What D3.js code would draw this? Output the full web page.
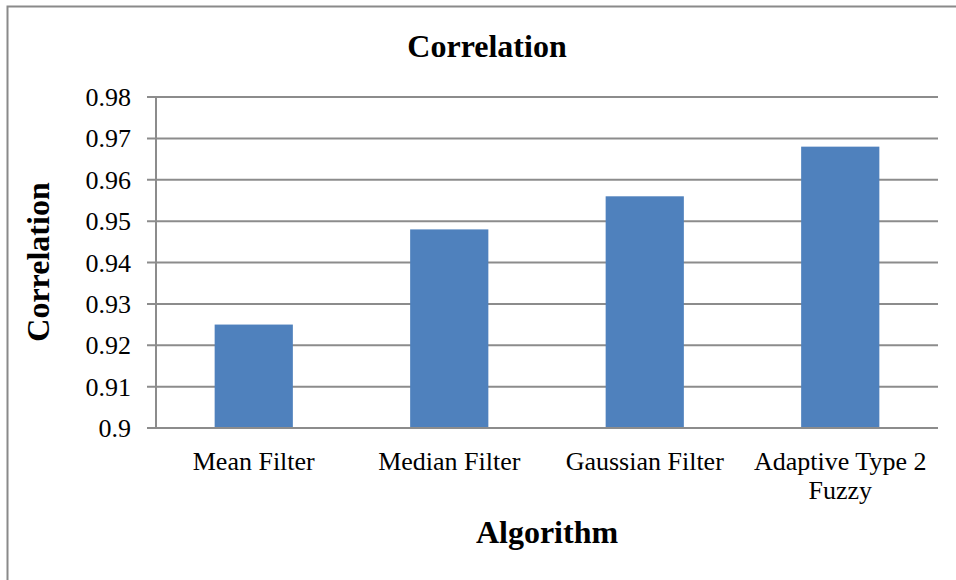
<!DOCTYPE html>
<html>
<head>
<meta charset="utf-8">
<script src="https://cdn.jsdelivr.net/npm/d3@7"></script>
<style>
  body { margin: 0; background: #fff; }
  text { font-family: "Liberation Serif", "Times New Roman", serif; fill: #000; }
</style>
</head>
<body>
<svg id="chart" width="956" height="580"></svg>
<script>
const categories = [['Mean Filter'], ['Median Filter'], ['Gaussian Filter'], ['Adaptive Type 2', 'Fuzzy']]
const values = [0.925, 0.948, 0.956, 0.968]
const yTicks = [0.9, 0.91, 0.92, 0.93, 0.94, 0.95, 0.96, 0.97, 0.98]

const svg = d3.select('#chart')
const margin = { left: 156, right: 18, top: 97, bottom: 152 }
const width = 956 - margin.left - margin.right
const height = 580 - margin.top - margin.bottom

// outer frame (cut off at right and bottom like the picture)
svg.append('rect')
  .attr('x', 7.5).attr('y', 6.5)
  .attr('width', 1000).attr('height', 1000)
  .attr('fill', 'none').attr('stroke', '#8a8a8a').attr('stroke-width', 2)

const g = svg.append('g').attr('transform', `translate(${margin.left},${margin.top})`)

const x = d3.scaleBand().domain(d3.range(categories.length)).range([0, width])
const y = d3.scaleLinear().domain([0.9, 0.98]).range([height, 0])

// gridlines + ticks
g.selectAll('.grid').data(yTicks).enter().append('line')
  .attr('x1', -9).attr('x2', width)
  .attr('y1', d => y(d)).attr('y2', d => y(d))
  .attr('stroke', '#8c8c8c').attr('stroke-width', 2)

g.append('line')
  .attr('x1', 0).attr('x2', 0).attr('y1', 0).attr('y2', height)
  .attr('stroke', '#8c8c8c').attr('stroke-width', 2)

g.selectAll('.ytick').data(yTicks).enter().append('text')
  .attr('x', -25).attr('y', d => y(d))
  .attr('dy', '0.35em')
  .attr('text-anchor', 'end')
  .style('font-size', '26px')
  .text(d => d3.format('')(+d.toFixed(2)))

// bars
const bw = x.bandwidth() * 0.4
g.selectAll('.bar').data(values).enter().append('rect')
  .attr('x', (d, i) => x(i) + x.bandwidth() / 2 - bw / 2)
  .attr('y', d => y(d))
  .attr('width', bw)
  .attr('height', d => height - y(d))
  .attr('fill', '#4F81BD')

// x axis line on top of bars
g.append('line')
  .attr('x1', 0).attr('x2', width).attr('y1', height).attr('y2', height)
  .attr('stroke', '#8c8c8c').attr('stroke-width', 2)

// category labels
const lab = g.selectAll('.xlab').data(categories).enter().append('text')
  .attr('text-anchor', 'middle')
  .attr('transform', (d, i) => `translate(${x(i) + x.bandwidth() / 2},${height + 42})`)
  .style('font-size', '26px')
lab.selectAll('tspan').data(d => d).enter().append('tspan')
  .attr('x', 0).attr('dy', (d, i) => i ? 29 : 0)
  .text(d => d)

// titles
svg.append('text')
  .attr('x', 487).attr('y', 57)
  .attr('text-anchor', 'middle')
  .style('font-size', '32px').style('font-weight', 'bold')
  .text('Correlation')

svg.append('text')
  .attr('x', margin.left + width / 2).attr('y', 543)
  .attr('text-anchor', 'middle')
  .style('font-size', '32px').style('font-weight', 'bold')
  .text('Algorithm')

svg.append('text')
  .attr('transform', 'translate(49,262) rotate(-90)')
  .attr('text-anchor', 'middle')
  .style('font-size', '32px').style('font-weight', 'bold')
  .text('Correlation')
</script>
</body>
</html>
